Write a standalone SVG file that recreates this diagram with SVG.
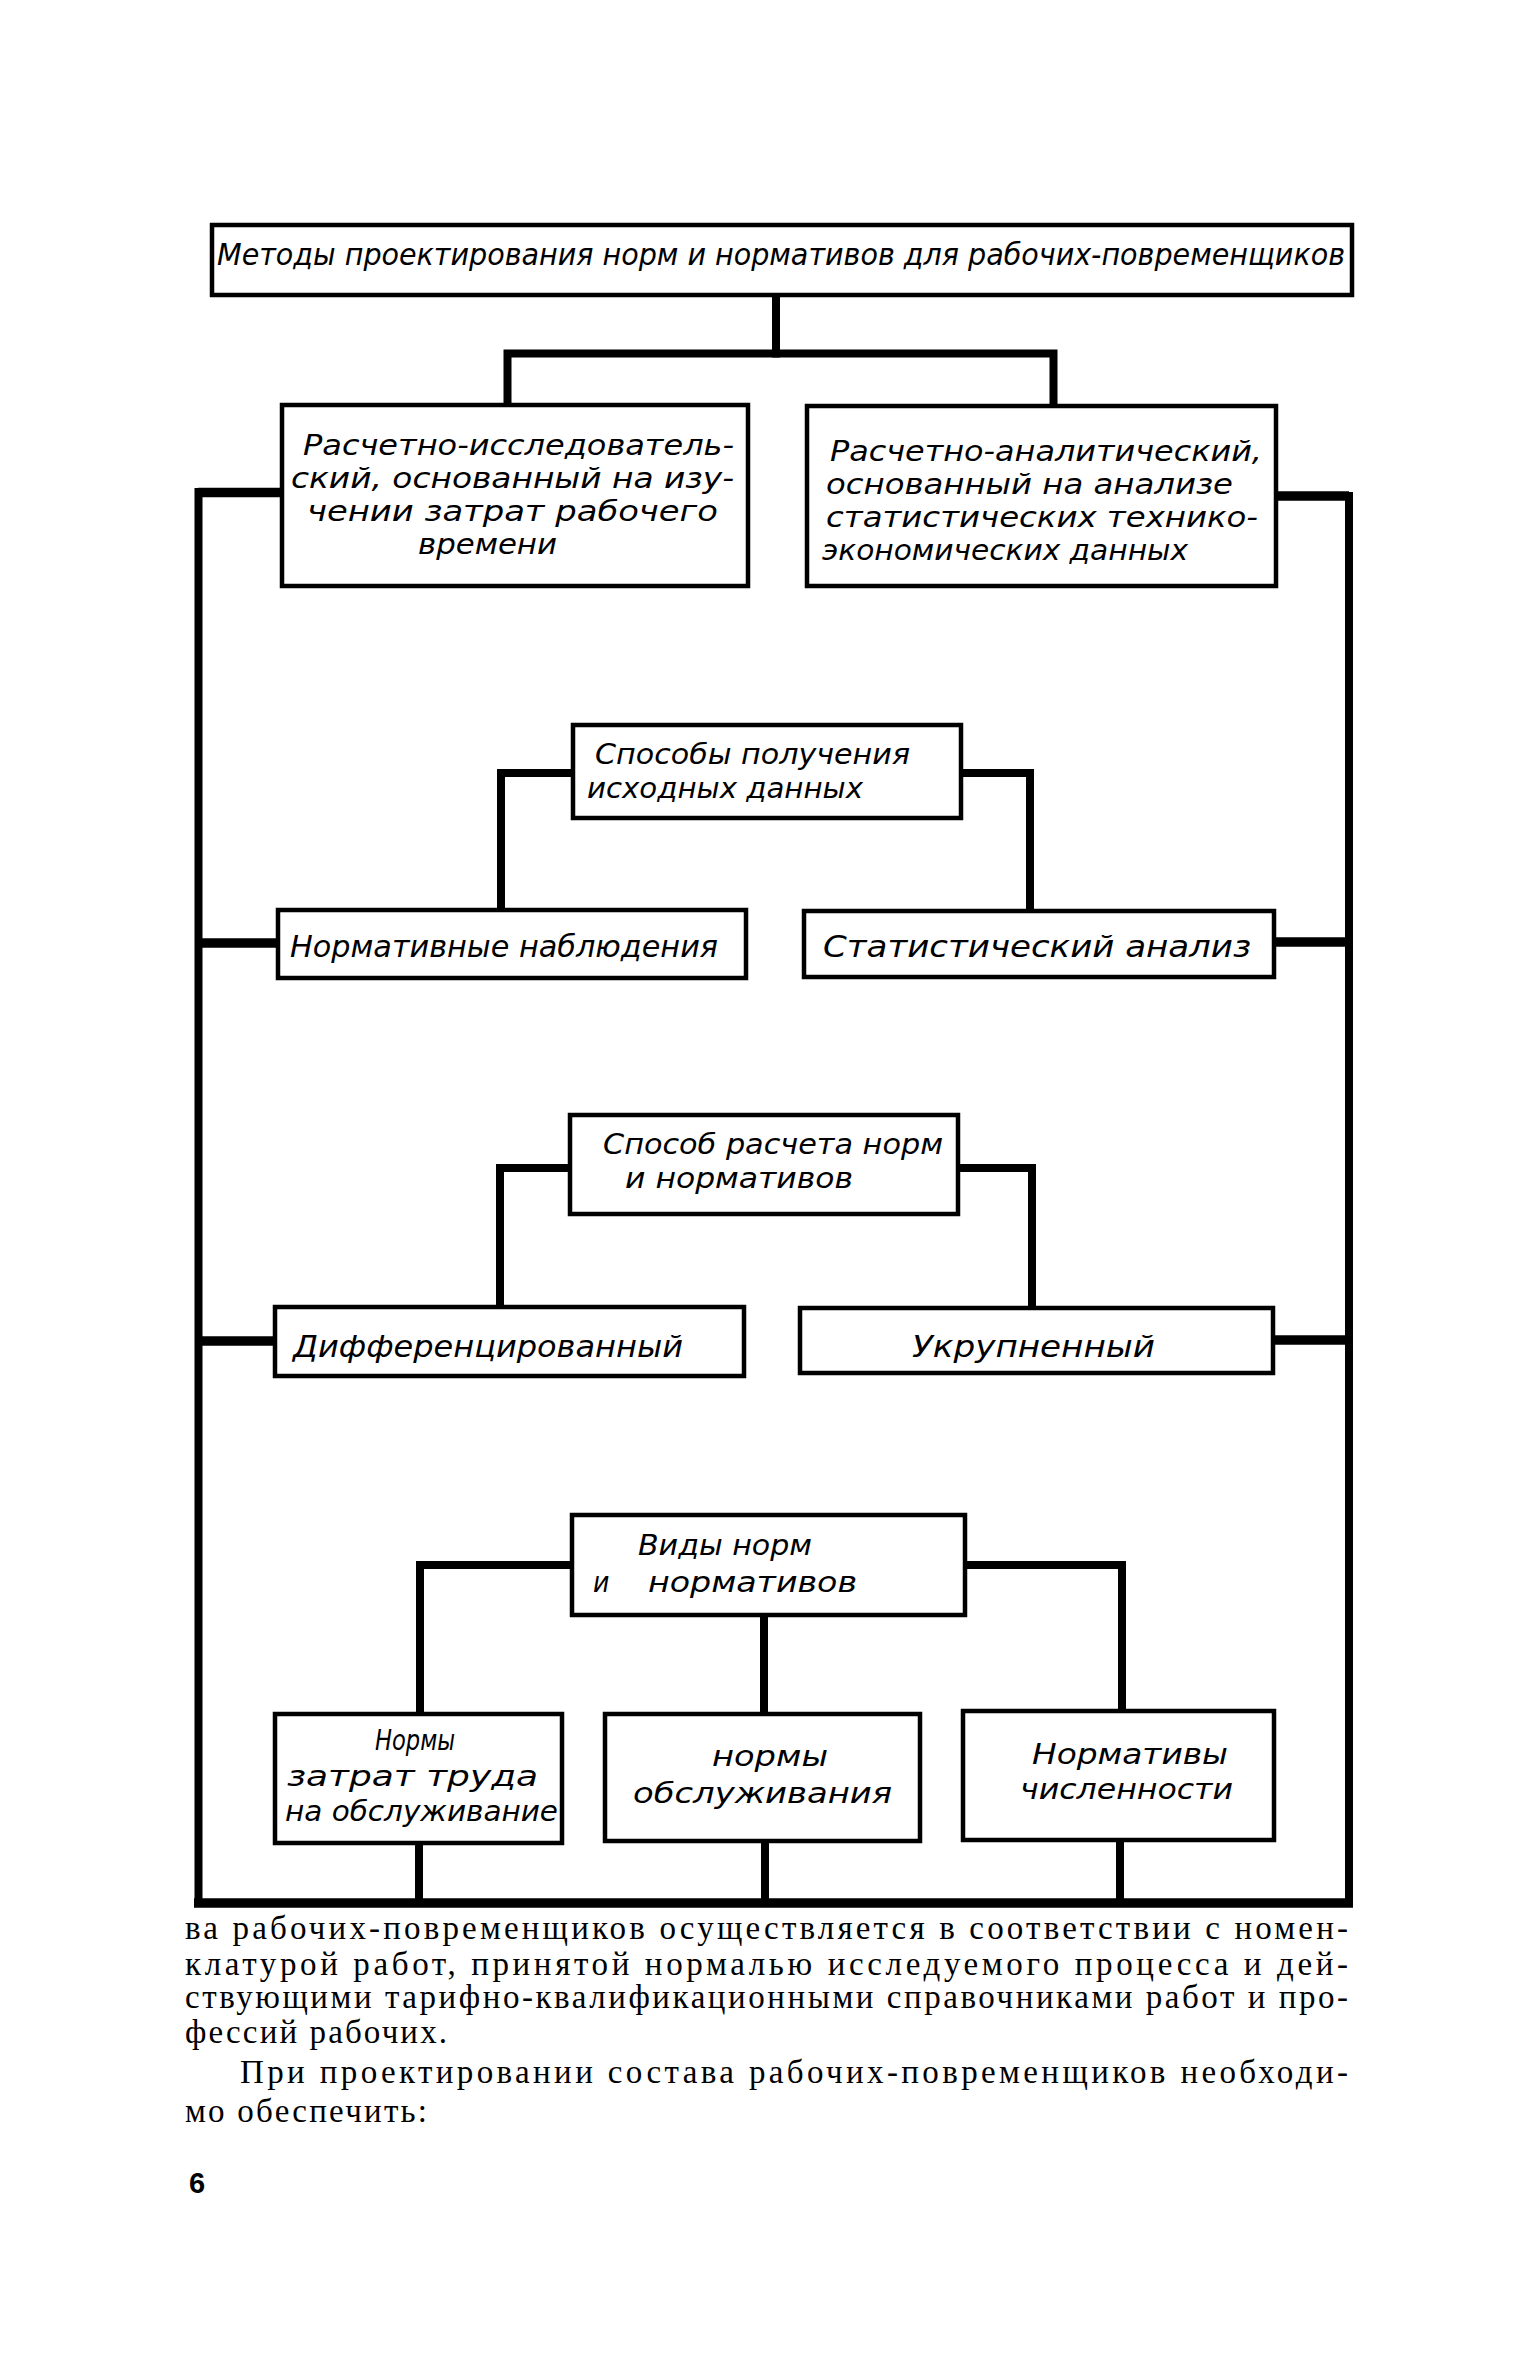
<svg xmlns="http://www.w3.org/2000/svg" width="1536" height="2362" viewBox="0 0 1536 2362">
<style>
.box{fill:#fff;stroke:#000;stroke-width:4.5}
.ln{fill:none;stroke:#000;stroke-width:8;stroke-linejoin:miter;stroke-linecap:square}
.th{fill:none;stroke:#000;stroke-width:9.5;stroke-linecap:butt}
.lbl{font-family:"DejaVu Sans Condensed","DejaVu Sans",sans-serif;font-style:oblique;font-size:28px;fill:#000}
.one{font-size:31px}
.top{font-size:30px}
.body{font-family:"Liberation Serif",serif;font-size:33px;fill:#000}
.pg{font-family:"Liberation Sans",sans-serif;font-size:29px;font-weight:bold;fill:#000}
</style>
<rect width="1536" height="2362" fill="#fff"/>
<g id="connectors">
<path class="ln" d="M776,297 V353.5"/>
<path class="ln" d="M507.5,403 V353.5 H1053.5 V404"/>
<path class="ln" stroke-width="7" d="M198.5,492 V1903 H1349 V496"/>
<path class="th" d="M198,492.5 H280"/>
<path class="th" d="M1277,496 H1349"/>
<path class="th" d="M198,943 H276"/>
<path class="th" d="M1276,942 H1349"/>
<path class="th" d="M198,1341 H273"/>
<path class="th" d="M1275,1340 H1349"/>
<path class="th" d="M194,1903 H1353"/>
<path class="ln" d="M573,773 H501 V909"/>
<path class="ln" d="M961,773 H1030 V909"/>
<path class="ln" d="M570,1168 H500 V1307"/>
<path class="ln" d="M958,1168 H1032 V1307"/>
<path class="ln" d="M572,1565 H420 V1712"/>
<path class="ln" d="M764,1617 V1712"/>
<path class="ln" d="M965,1565 H1122 V1710"/>
<path class="ln" stroke-width="7" d="M419,1845 V1903"/>
<path class="ln" stroke-width="7" d="M765,1843 V1903"/>
<path class="ln" stroke-width="7" d="M1120,1842 V1903"/>
</g>
<g id="n-top">
<rect class="box" x="212" y="225" width="1140" height="70"/>
<text class="lbl top" x="217" y="265" textLength="1128" lengthAdjust="spacingAndGlyphs">Методы проектирования норм и нормативов для рабочих-повременщиков</text>
</g>
<g id="n-research">
<rect class="box" x="282" y="405" width="466" height="181"/>
<text class="lbl" x="303" y="455" textLength="431" lengthAdjust="spacingAndGlyphs">Расчетно-исследователь-</text>
<text class="lbl" x="291" y="488" textLength="443" lengthAdjust="spacingAndGlyphs">ский, основанный на изу-</text>
<text class="lbl" x="307" y="521" textLength="411" lengthAdjust="spacingAndGlyphs">чении  затрат рабочего</text>
<text class="lbl" x="418" y="554" textLength="139" lengthAdjust="spacingAndGlyphs">времени</text>
</g>
<g id="n-analytic">
<rect class="box" x="807" y="406" width="469" height="180"/>
<text class="lbl" x="830" y="461" textLength="432" lengthAdjust="spacingAndGlyphs">Расчетно-аналитический,</text>
<text class="lbl" x="826" y="494" textLength="407" lengthAdjust="spacingAndGlyphs">основанный  на  анализе</text>
<text class="lbl" x="826" y="527" textLength="432" lengthAdjust="spacingAndGlyphs">статистических технико-</text>
<text class="lbl" x="822" y="560" textLength="366" lengthAdjust="spacingAndGlyphs">экономических данных</text>
</g>
<g id="n-ways">
<rect class="box" x="573" y="725" width="388" height="93"/>
<text class="lbl" x="595" y="764" textLength="315" lengthAdjust="spacingAndGlyphs">Способы получения</text>
<text class="lbl" x="587" y="798" textLength="276" lengthAdjust="spacingAndGlyphs">исходных  данных</text>
</g>
<g id="n-observ">
<rect class="box" x="278" y="910" width="468" height="68"/>
<text class="lbl one" x="290" y="957" textLength="428" lengthAdjust="spacingAndGlyphs">Нормативные наблюдения</text>
</g>
<g id="n-stat">
<rect class="box" x="804" y="911" width="470" height="66"/>
<text class="lbl one" x="823" y="957" textLength="428" lengthAdjust="spacingAndGlyphs">Статистический анализ</text>
</g>
<g id="n-calc">
<rect class="box" x="570" y="1115" width="388" height="99"/>
<text class="lbl" x="603" y="1154" textLength="340" lengthAdjust="spacingAndGlyphs">Способ расчета норм</text>
<text class="lbl" x="625" y="1188" textLength="228" lengthAdjust="spacingAndGlyphs">и нормативов</text>
</g>
<g id="n-diff">
<rect class="box" x="275" y="1307" width="469" height="69"/>
<text class="lbl one" x="293" y="1357" textLength="390" lengthAdjust="spacingAndGlyphs">Дифференцированный</text>
</g>
<g id="n-enl">
<rect class="box" x="800" y="1308" width="473" height="65"/>
<text class="lbl one" x="912" y="1357" textLength="243" lengthAdjust="spacingAndGlyphs">Укрупненный</text>
</g>
<g id="n-kinds">
<rect class="box" x="572" y="1515" width="393" height="100"/>
<text class="lbl" x="638" y="1555" textLength="174" lengthAdjust="spacingAndGlyphs">Виды норм</text>
<text class="lbl" x="593" y="1592">и</text>
<text class="lbl" x="648" y="1592" textLength="209" lengthAdjust="spacingAndGlyphs">нормативов</text>
</g>
<g id="n-labor">
<rect class="box" x="275" y="1714" width="287" height="129"/>
<text class="lbl" x="375" y="1750" textLength="80" lengthAdjust="spacingAndGlyphs">Нормы</text>
<text class="lbl" x="287" y="1786" textLength="251" lengthAdjust="spacingAndGlyphs">затрат труда</text>
<text class="lbl" x="285" y="1821" textLength="273" lengthAdjust="spacingAndGlyphs">на обслуживание</text>
</g>
<g id="n-service">
<rect class="box" x="605" y="1714" width="315" height="127"/>
<text class="lbl" x="712" y="1766" textLength="116" lengthAdjust="spacingAndGlyphs">нормы</text>
<text class="lbl" x="633" y="1803" textLength="259" lengthAdjust="spacingAndGlyphs">обслуживания</text>
</g>
<g id="n-staff">
<rect class="box" x="963" y="1711" width="311" height="129"/>
<text class="lbl" x="1032" y="1764" textLength="196" lengthAdjust="spacingAndGlyphs">Нормативы</text>
<text class="lbl" x="1020" y="1799" textLength="213" lengthAdjust="spacingAndGlyphs">численности</text>
</g>
<g id="body-text">
<text class="body" x="185" y="1939" textLength="1163" lengthAdjust="spacing">ва рабочих-повременщиков осуществляется в соответствии с номен-</text>
<text class="body" x="185" y="1975" textLength="1163" lengthAdjust="spacing">клатурой работ, принятой нормалью исследуемого процесса и дей-</text>
<text class="body" x="185" y="2008" textLength="1163" lengthAdjust="spacing">ствующими тарифно-квалификационными справочниками работ и про-</text>
<text class="body" x="185" y="2043" textLength="262" lengthAdjust="spacing">фессий рабочих.</text>
<text class="body" x="240" y="2083" textLength="1108" lengthAdjust="spacing">При проектировании состава рабочих-повременщиков необходи-</text>
<text class="body" x="185" y="2122" textLength="242" lengthAdjust="spacing">мо обеспечить:</text>
<text class="pg" x="189" y="2193">6</text>
</g>
</svg>
